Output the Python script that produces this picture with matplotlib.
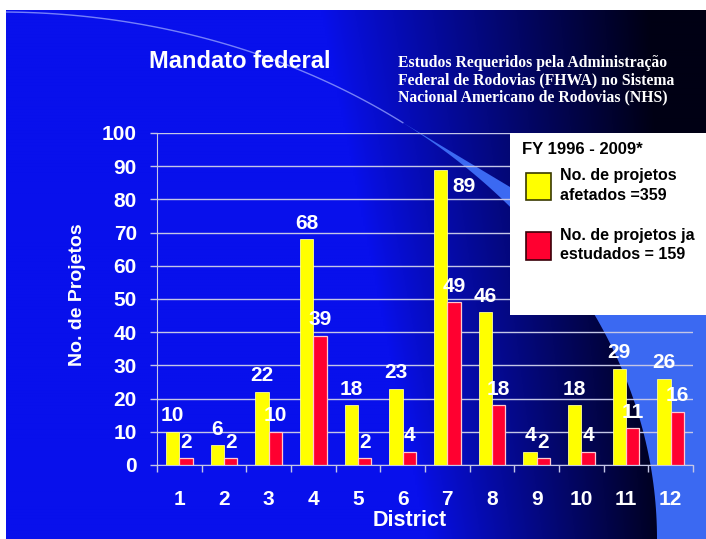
import numpy as np
import matplotlib
matplotlib.use('Agg')
import matplotlib.pyplot as plt
from matplotlib.patches import Rectangle, Polygon, Patch
from matplotlib.legend_handler import HandlerPatch

# data
districts = ['1', '2', '3', '4', '5', '6', '7', '8', '9', '10', '11', '12']
afetados = [10, 6, 22, 68, 18, 23, 89, 46, 4, 18, 29, 26]
estudados = [2, 2, 10, 39, 2, 4, 49, 18, 2, 4, 11, 16]
yticks = [0, 10, 20, 30, 40, 50, 60, 70, 80, 90, 100]
legend_labels = ['No. de projetos\nafetados =359', 'No. de projetos ja\nestudados = 159']
title = 'Mandato federal'
subtitle = ('Estudos Requeridos pela Administração\n'
            'Federal de Rodovias (FHWA) no Sistema\n'
            'Nacional Americano de Rodovias (NHS)')
period = 'FY 1996 - 2009*'

plt.rcParams['font.family'] = ['Liberation Sans', 'DejaVu Sans']
plt.rcParams['font.weight'] = 'bold'

W, H = 706, 539
fig = plt.figure(figsize=(W / 100, H / 100), dpi=100)
fig.patch.set_facecolor('white')

# slide background: blue -> black gradient with the light swoosh
bg = fig.add_axes([0, 0, 1, 1])
bg.set_xlim(0, W)
bg.set_ylim(H, 0)
bg.axis('off')
xx, yy = np.meshgrid(np.linspace(6, W, 350), np.linspace(10, H, 270))
x0 = 320 + 0.2 * yy
x1 = 650 + 0.05 * yy
t = np.clip((xx - x0) / (x1 - x0), 0, 1) ** 0.9
bright = np.array([8, 16, 236]) / 255
dark = np.array([0, 0, 20]) / 255
img = bright * (1 - t[..., None]) + dark * t[..., None]
bg.imshow(img, extent=(6, W, H, 10), aspect='auto', interpolation='bilinear')

a = np.linspace(0.654, np.pi / 2, 80)
arc = np.column_stack([657 * np.sin(a), 539 - 527 * np.cos(a)])
outer = np.array([[706, 539], [706, 280], [600, 232], [510, 187], [455, 154]])
bg.add_patch(Polygon(np.vstack([arc, outer]), closed=True,
                     facecolor='#3b69f2', edgecolor='none'))
a2 = np.linspace(0.01, 0.66, 80)
bg.plot(657 * np.sin(a2), 539 - 527 * np.cos(a2), color='#9aa6ff', lw=1.0, alpha=0.75)

# chart
ax = fig.add_axes([157 / W, 1 - 465 / H, 536 / W, 332 / H])
ax.set_facecolor('none')
x = np.arange(1, len(districts) + 1)
b1 = ax.bar(x - 0.15, afetados, 0.3, color='#ffff00', edgecolor='#ffff90',
            linewidth=0.6, zorder=3)
b2 = ax.bar(x + 0.15, estudados, 0.3, color='#ff0030', edgecolor='#ffc8d0',
            linewidth=0.9, zorder=3)

ax.set_xlim(0.5, 12.5)
ax.set_ylim(0, 100)
ax.set_yticks(yticks)
ax.set_xticks(x, districts)
ax.set_xticks(np.arange(0.5, 13, 1), minor=True)
gcol = '#c4c6e6'
ax.grid(axis='y', color=gcol, linewidth=1)
ax.set_axisbelow(True)
ax.tick_params(axis='x', which='major', length=0, pad=18, labelsize=15, labelcolor='white')
ax.tick_params(axis='x', which='minor', length=5, color=gcol, width=1)
ax.tick_params(axis='y', length=5, color=gcol, width=1, pad=9.5, labelsize=15, labelcolor='white')
for s in ['top', 'right']:
    ax.spines[s].set_visible(False)
for s in ['left', 'bottom']:
    ax.spines[s].set_color(gcol)


def label_bars(bars, vals):
    for rect, v in zip(bars, vals):
        cx = rect.get_x() + rect.get_width() / 2
        off = (17, -12.5) if v > 85 else (0, 11.5)
        ax.annotate(str(v), (cx, v), xytext=off, textcoords='offset points',
                    ha='center', va='center', fontsize=15, color='white', zorder=5)


label_bars(b1, afetados)
label_bars(b2, estudados)

fig.text(410 / W, 1 - 520 / H, 'District', ha='center', va='center', fontsize=15.5, color='white')
fig.text(77 / W, 1 - 295 / H, 'No. de Projetos', rotation=90, ha='center', va='center',
         fontsize=14, color='white')

fig.text(149 / W, 1 - 62 / H, title, ha='left', va='center', fontsize=17, color='white')
fig.text(398 / W, 1 - 55 / H, subtitle, ha='left', va='top', fontsize=11.3, color='white',
         family='Liberation Serif', linespacing=1.12)

# legend panel
fig.add_artist(Rectangle((510 / W, 1 - 315 / H), 196 / W, 182 / H, transform=fig.transFigure,
                         facecolor='white', edgecolor='none', zorder=4))
fig.text(522 / W, 1 - 150 / H, period, ha='left', va='center', fontsize=12, color='black', zorder=6)


def square(legend, orig_handle, xdescent, ydescent, width, height, fontsize):
    return Rectangle((-xdescent, -6.5), width, 20)


handles = [Patch(facecolor='#ffff00', edgecolor='#3a3a00', linewidth=1.2),
           Patch(facecolor='#ff0030', edgecolor='#3a0008', linewidth=1.2)]
leg = fig.legend(handles=handles, labels=legend_labels, loc='upper left',
                 bbox_to_anchor=(526 / W, 1 - 168 / H), frameon=False, fontsize=11.5,
                 handlelength=1.55, handleheight=1.75, handletextpad=0.6, labelspacing=1.55,
                 borderpad=0, borderaxespad=0,
                 handler_map={Patch: HandlerPatch(patch_func=square)})
for txt in leg.get_texts():
    txt.set_linespacing(1.4)

fig.savefig('out.png', dpi=100)
